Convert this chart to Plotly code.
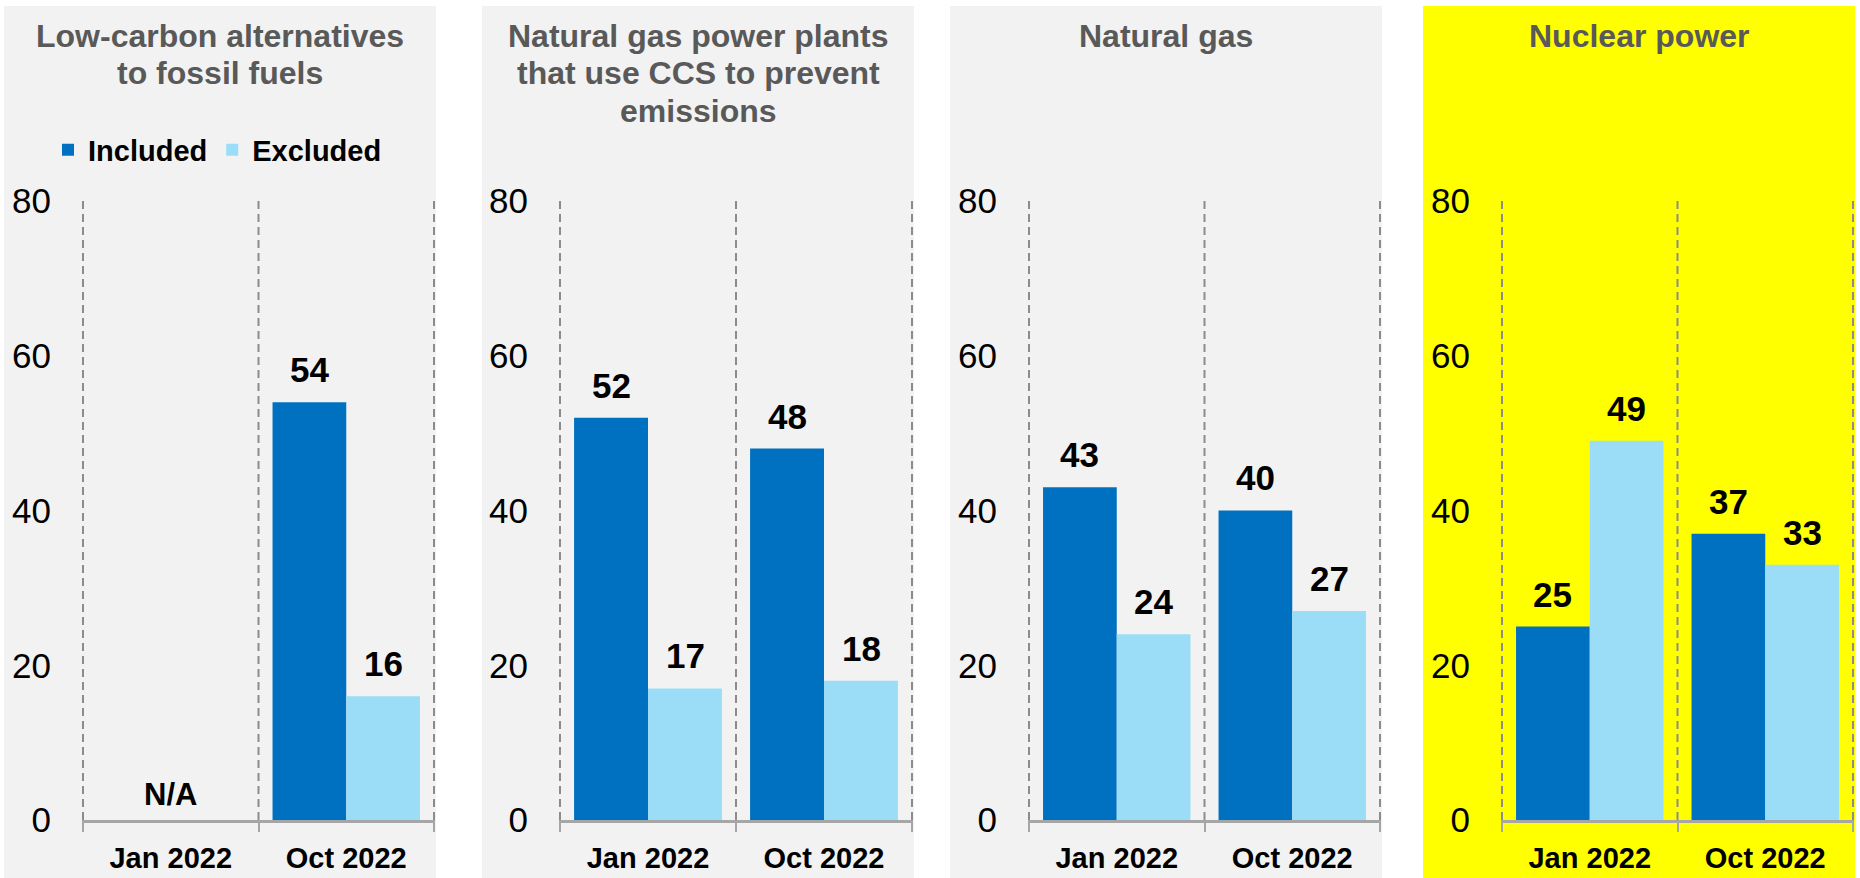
import plotly.graph_objects as go

# ---------------- data ----------------
categories = ["Jan 2022", "Oct 2022"]

panel_title_lines = [
    ["Low-carbon alternatives", "to fossil fuels"],
    ["Natural gas power plants", "that use CCS to prevent", "emissions"],
    ["Natural gas"],
    ["Nuclear power"],
]

low_carbon_included = [None, 54]
low_carbon_excluded = [None, 16]
ccs_included = [52, 48]
ccs_excluded = [17, 18]
gas_included = [43, 40]
gas_excluded = [24, 27]
nuclear_included = [25, 37]
nuclear_excluded = [49, 33]

y_ticks = [0, 20, 40, 60, 80]

included_series = [low_carbon_included, ccs_included, gas_included, nuclear_included]
excluded_series = [low_carbon_excluded, ccs_excluded, gas_excluded, nuclear_excluded]

# ---------------- style ----------------
W, H = 1860, 878
FONT = "Arial, 'Liberation Sans', sans-serif"
C_INC = "#0070C0"
C_EXC = "#9BDDF7"
PANEL_BG = ["#F2F2F2", "#F2F2F2", "#F2F2F2", "#FFFF00"]
panel_px = [(4, 436), (482, 914), (950, 1382), (1423, 1855)]
plot_px = [(82, 435), (559, 913), (1028, 1381), (1501, 1854)]
y_top_px, y_bot_px = 201, 820
Y_MAX = y_ticks[-1]
TITLE_TOP, TITLE_PITCH = 16, 37.5

fig = go.Figure()
annotations = []
shapes = []

for i in range(4):
    ax = "" if i == 0 else str(i + 1)
    xref, yref = "x" + ax, "y" + ax
    inc = included_series[i]
    exc = excluded_series[i]

    # panel background
    x0, x1 = panel_px[i]
    shapes.append(dict(type="rect", xref="paper", yref="paper",
                       x0=x0 / W, x1=x1 / W, y0=0, y1=1 - 6 / H,
                       fillcolor=PANEL_BG[i], line_width=0, layer="below"))
    # dashed category separators (category boundaries)
    for b in range(len(categories) + 1):
        shapes.append(dict(type="line", xref=xref, yref=yref,
                           x0=b - 0.5, x1=b - 0.5, y0=0, y1=Y_MAX,
                           line=dict(color="#8C8C8C", width=2, dash="8px,5px"),
                           layer="below"))

    fig.add_trace(go.Bar(
        x=categories, y=inc, name="<b>Included</b>", marker_color=C_INC,
        marker_line_width=0, showlegend=(i == 0), xaxis=xref, yaxis=yref,
        hoverinfo="skip"))
    fig.add_trace(go.Bar(
        x=categories, y=exc, name="<b>Excluded</b>", marker_color=C_EXC,
        marker_line_width=0, showlegend=(i == 0), xaxis=xref, yaxis=yref,
        hoverinfo="skip"))

    # value labels
    for cat, vi, ve in zip(categories, inc, exc):
        if vi is None and ve is None:
            annotations.append(dict(
                x=cat, y=0, xref=xref, yref=yref, text="<b>N/A</b>",
                showarrow=False, yanchor="bottom", yshift=6,
                font=dict(family=FONT, size=31, color="black")))
            continue
        for v, sh in ((vi, -37), (ve, 37)):
            annotations.append(dict(
                x=cat, y=v, xref=xref, yref=yref, text="<b>%d</b>" % v,
                showarrow=False, yanchor="bottom", xshift=sh, yshift=11,
                font=dict(family=FONT, size=35, color="black")))

    # title (one annotation per line for tight line spacing)
    for k, line in enumerate(panel_title_lines[i]):
        annotations.append(dict(
            x=(x0 + x1) / 2 / W, y=1 - (TITLE_TOP + k * TITLE_PITCH) / H,
            xref="paper", yref="paper", text="<b>%s</b>" % line,
            showarrow=False, xanchor="center", yanchor="top", align="center",
            font=dict(family=FONT, size=32, color="#595959")))

    px0, px1 = plot_px[i]
    fig.layout["xaxis" + ax] = dict(
        domain=[px0 / W, px1 / W], anchor=yref, type="category",
        categoryorder="array", categoryarray=categories,
        tickson="boundaries", ticks="outside", ticklen=9, tickwidth=2,
        tickcolor="#A6A6A6", showline=True, linecolor="#A6A6A6", linewidth=3,
        showgrid=False, automargin=False,
        tickfont=dict(family=FONT, size=29, color="black"),
        ticklabelstandoff=10, fixedrange=True,
        tickvals=categories, ticktext=["<b>%s</b>" % c for c in categories],
    )
    fig.layout["yaxis" + ax] = dict(
        domain=[1 - y_bot_px / H, 1 - y_top_px / H], anchor=xref,
        range=[0, Y_MAX], tickvals=y_ticks, showgrid=False, zeroline=False,
        showline=False, ticks="", ticklabelstandoff=30, automargin=False,
        tickfont=dict(family=FONT, size=35, color="black"), fixedrange=True,
    )

fig.update_layout(
    width=W, height=H, margin=dict(l=0, r=0, t=0, b=0, autoexpand=False),
    paper_bgcolor="white", plot_bgcolor="rgba(0,0,0,0)",
    barmode="group", bargap=0.16, bargroupgap=0,
    shapes=shapes, annotations=annotations,
    legend=dict(orientation="h", x=48 / W, y=1 - 150 / H, xanchor="left",
                yanchor="middle", bgcolor="rgba(0,0,0,0)",
                font=dict(family=FONT, size=29, color="black"),
                itemclick=False, itemdoubleclick=False),
    font=dict(family=FONT),
)

fig.write_html("out.html", config={"displayModeBar": False},
               post_script="document.body.style.margin='0';")
